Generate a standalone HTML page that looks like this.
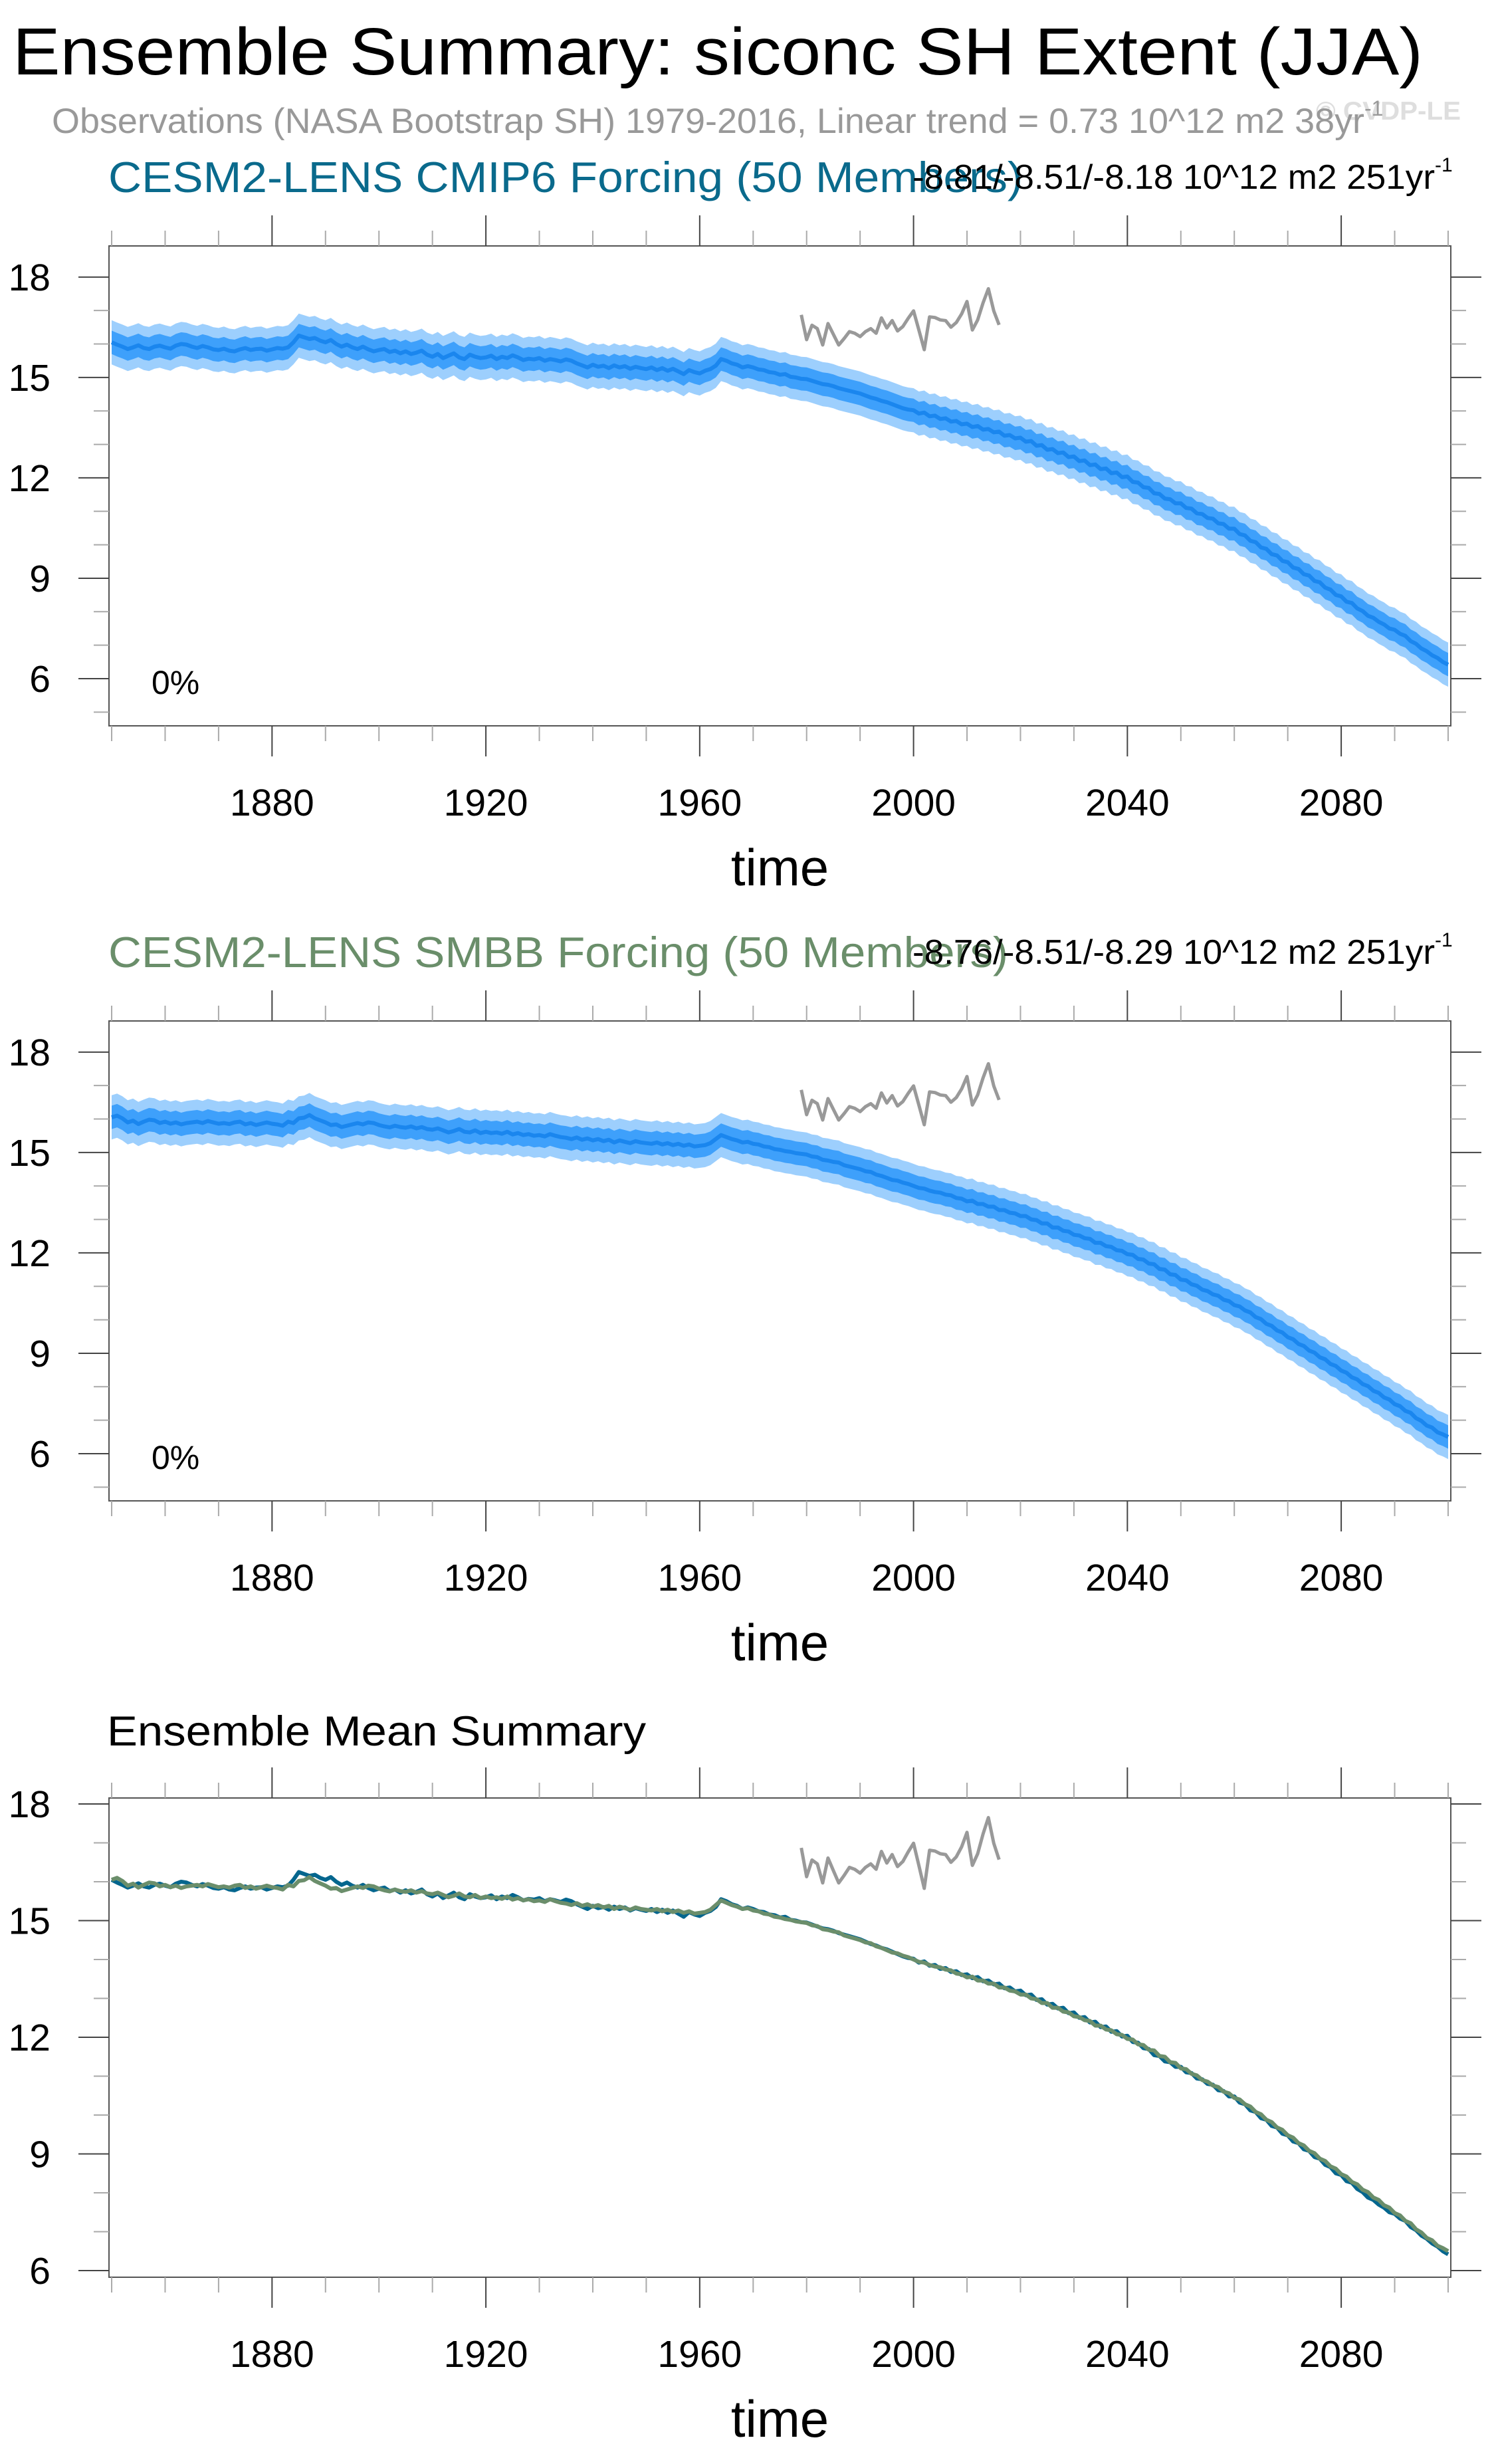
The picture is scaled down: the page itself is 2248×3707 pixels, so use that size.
<!DOCTYPE html>
<html><head><meta charset="utf-8"><title>Ensemble Summary: siconc SH Extent (JJA)</title>
<style>html,body{margin:0;padding:0;background:#fff;}svg{display:block;font-family:"Liberation Sans",Arial,sans-serif;}</style>
</head><body>
<svg id="chart" xmlns="http://www.w3.org/2000/svg" width="2248" height="3707" viewBox="0 0 2248 3707">
<rect x="0" y="0" width="2248" height="3707" fill="#fff"/>
<text x="19" y="112" font-size="100" textLength="2122" lengthAdjust="spacingAndGlyphs" fill="#000">Ensemble Summary: siconc SH Extent (JJA)</text>
<text x="1980" y="180" font-size="39" font-weight="bold" textLength="218" lengthAdjust="spacingAndGlyphs" fill="#dedede">© CVDP-LE</text>
<text x="78" y="200" font-size="53" fill="#999"><tspan textLength="1975" lengthAdjust="spacingAndGlyphs">Observations (NASA Bootstrap SH) 1979-2016, Linear trend = 0.73 10^12 m2 38yr</tspan><tspan font-size="32" dy="-26">-1</tspan></text>
<text x="163" y="289" font-size="65" textLength="1376" lengthAdjust="spacingAndGlyphs" fill="#0a6a8c">CESM2-LENS CMIP6 Forcing (50 Members)</text>
<text x="1373" y="284" font-size="52" fill="#000"><tspan textLength="786" lengthAdjust="spacingAndGlyphs">-8.81/-8.51/-8.18 10^12 m2 251yr</tspan><tspan font-size="30" dy="-26">-1</tspan></text>
<text x="163" y="1455" font-size="65" textLength="1354" lengthAdjust="spacingAndGlyphs" fill="#6a8e6a">CESM2-LENS SMBB Forcing (50 Members)</text>
<text x="1373" y="1450" font-size="52" fill="#000"><tspan textLength="786" lengthAdjust="spacingAndGlyphs">-8.76/-8.51/-8.29 10^12 m2 251yr</tspan><tspan font-size="30" dy="-26">-1</tspan></text>
<text x="161" y="2626" font-size="63" textLength="811" lengthAdjust="spacingAndGlyphs" fill="#000">Ensemble Mean Summary</text>
</svg>
<script>
const startYear = 1850;
const cmip6Mean = [
16.05,15.98,15.92,15.85,15.90,15.96,15.88,15.85,15.92,15.95,
15.90,15.86,15.95,16.00,15.98,15.92,15.88,15.94,15.90,15.84,
15.82,15.86,15.80,15.78,15.84,15.88,15.82,15.85,15.86,15.80,
15.84,15.88,15.86,15.90,16.05,16.25,16.20,16.15,16.18,16.10,
16.05,16.12,16.00,15.92,15.98,15.90,15.85,15.92,15.84,15.78,
15.82,15.85,15.76,15.80,15.72,15.78,15.70,15.74,15.80,15.68,
15.62,15.70,15.58,15.65,15.72,15.60,15.55,15.68,15.62,15.58,
15.60,15.65,15.55,15.62,15.58,15.66,15.60,15.52,15.56,15.54,
15.58,15.50,15.55,15.52,15.48,15.54,15.50,15.42,15.36,15.30,
15.38,15.32,15.35,15.28,15.36,15.30,15.34,15.26,15.32,15.28,
15.25,15.30,15.22,15.28,15.20,15.26,15.18,15.10,15.22,15.16,
15.12,15.20,15.25,15.35,15.55,15.50,15.42,15.38,15.30,15.34,
15.30,15.24,15.22,15.16,15.14,15.08,15.10,15.02,15.00,14.96,
14.95,14.90,14.85,14.80,14.78,14.74,14.68,14.64,14.60,14.56,
14.52,14.46,14.40,14.36,14.30,14.26,14.20,14.14,14.08,14.04,
14.02,13.92,13.95,13.84,13.86,13.76,13.78,13.68,13.70,13.60,
13.62,13.52,13.55,13.44,13.46,13.36,13.38,13.26,13.28,13.18,
13.20,13.08,13.10,12.96,12.98,12.84,12.86,12.74,12.76,12.62,
12.64,12.50,12.52,12.38,12.40,12.26,12.28,12.14,12.16,12.02,
12.04,11.88,11.86,11.72,11.70,11.54,11.52,11.38,11.36,11.24,
11.24,11.10,11.08,10.94,10.92,10.80,10.78,10.64,10.62,10.48,
10.48,10.32,10.28,10.12,10.08,9.92,9.88,9.72,9.68,9.52,
9.48,9.32,9.28,9.12,9.08,8.92,8.88,8.72,8.66,8.50,
8.46,8.30,8.26,8.10,8.02,7.88,7.82,7.70,7.62,7.50,
7.46,7.34,7.28,7.12,7.04,6.90,6.82,6.70,6.62,6.50,
6.42];
const smbbMean = [
16.05,16.10,16.02,15.90,15.95,15.85,15.92,15.98,15.96,15.88,
15.92,15.86,15.90,15.84,15.88,15.90,15.92,15.88,15.94,15.90,
15.86,15.88,15.85,15.90,15.92,15.84,15.88,15.82,15.86,15.90,
15.86,15.84,15.80,15.92,15.88,16.02,16.04,16.12,16.02,15.96,
15.90,15.82,15.84,15.76,15.80,15.84,15.88,15.84,15.90,15.88,
15.82,15.78,15.75,15.80,15.76,15.74,15.78,15.72,15.76,15.70,
15.68,15.72,15.66,15.60,15.64,15.70,15.62,15.60,15.66,15.58,
15.62,15.58,15.60,15.56,15.62,15.54,15.58,15.52,15.55,15.50,
15.52,15.48,15.55,15.50,15.46,15.44,15.40,15.45,15.38,15.42,
15.36,15.40,15.34,15.38,15.30,15.36,15.32,15.28,15.34,15.30,
15.28,15.26,15.30,15.24,15.28,15.22,15.26,15.20,15.24,15.18,
15.20,15.22,15.28,15.40,15.52,15.46,15.40,15.36,15.30,15.32,
15.26,15.24,15.18,15.16,15.10,15.08,15.04,15.02,14.98,14.96,
14.94,14.88,14.86,14.78,14.76,14.72,14.70,14.62,14.58,14.54,
14.50,14.44,14.42,14.34,14.30,14.24,14.18,14.16,14.10,14.06,
14.00,13.94,13.92,13.86,13.82,13.80,13.74,13.72,13.64,13.62,
13.54,13.56,13.46,13.46,13.38,13.38,13.28,13.28,13.20,13.18,
13.10,13.10,13.00,12.98,12.88,12.88,12.76,12.76,12.66,12.64,
12.54,12.52,12.44,12.42,12.30,12.30,12.20,12.18,12.08,12.06,
11.96,11.94,11.82,11.80,11.68,11.66,11.52,11.50,11.36,11.34,
11.20,11.18,11.06,11.02,10.90,10.86,10.76,10.72,10.60,10.56,
10.44,10.40,10.28,10.22,10.08,10.02,9.88,9.82,9.68,9.62,
9.48,9.42,9.28,9.22,9.08,9.02,8.88,8.82,8.68,8.62,
8.48,8.42,8.28,8.22,8.08,8.02,7.88,7.82,7.68,7.62,
7.48,7.42,7.28,7.22,7.06,6.98,6.84,6.78,6.64,6.58,
6.50];
const obsStartYear = 1979;
const obsValues = [16.87,16.13,16.56,16.46,15.97,16.61,16.29,15.97,16.16,16.37,
16.32,16.22,16.37,16.46,16.32,16.78,16.48,16.70,16.39,16.52,
16.77,16.99,16.42,15.83,16.81,16.79,16.72,16.70,16.50,16.64,
16.90,17.27,16.42,16.72,17.23,17.65,16.99,16.57];
const innerSpread = 0.35;
const outerSpread = 0.66;
const yTickLabels = [6, 9, 12, 15, 18];
const xTickLabels = [1880, 1920, 1960, 2000, 2040, 2080];

const NS = 'http://www.w3.org/2000/svg';
const svg = document.getElementById('chart');
const BOX_L = 164, BOX_R = 2183, XMIN = 1849.5, XMAX = 2100.5;
function xScale(yr) { return BOX_L + (yr - XMIN) * (BOX_R - BOX_L) / (XMAX - XMIN); }
function mk(tag, attrs, parent) {
  const e = document.createElementNS(NS, tag);
  for (const k in attrs) e.setAttribute(k, attrs[k]);
  (parent || svg).appendChild(e);
  return e;
}
function linePath(vals, y0, ys, off) {
  return vals.map((v, i) => (i ? 'L' : 'M') + xScale(y0 + i).toFixed(1) + ',' + ys(v + off).toFixed(1)).join('');
}
function bandPath(vals, ys, spread) {
  let d = linePath(vals, startYear, ys, spread);
  for (let i = vals.length - 1; i >= 0; i--) d += 'L' + xScale(startYear + i).toFixed(1) + ',' + ys(vals[i] - spread).toFixed(1);
  return d + 'Z';
}
function panel(p) {
  const g = mk('g', {});
  
  
  const ys = v => p.bottom - (v - p.ymin) * (p.bottom - p.top) / (p.ymax - p.ymin);
  if (p.band) {
    const ob = mk('path', { d: bandPath(p.band, ys, outerSpread), fill: '#9dcffd' }, g);
    
    
    const ib = mk('path', { d: bandPath(p.band, ys, innerSpread), fill: '#3ea0fb' }, g);
    
    
    const ml = mk('path', { d: linePath(p.band, startYear, ys, 0), fill: 'none', stroke: '#1a86ee', 'stroke-width': 6, 'stroke-linejoin': 'round' }, g);
    
    
  }
  (p.lines || []).forEach(l => {
    const el = mk('path', { d: linePath(l.vals, startYear, ys, 0), fill: 'none', stroke: l.color, 'stroke-width': 6, 'stroke-linejoin': 'round' }, g);
    
    
  });
  const obs = mk('path', { d: linePath(obsValues, obsStartYear, ys, 0), fill: 'none', stroke: '#999', 'stroke-width': 5, 'stroke-linejoin': 'round' }, g);
  
  
  const box = mk('rect', { x: BOX_L, y: p.top, width: BOX_R - BOX_L, height: p.bottom - p.top, fill: 'none', stroke: '#555', 'stroke-width': 2 }, g);
  
  
  for (let yr = 1850; yr <= 2100; yr += 10) {
    const major = xTickLabels.indexOf(yr) >= 0;
    const len = major ? 46 : 23, x = xScale(yr), col = major ? '#444' : '#aaa';
    mk('line', { x1: x, x2: x, y1: p.top, y2: p.top - len, stroke: col, 'stroke-width': 2 }, g);
    mk('line', { x1: x, x2: x, y1: p.bottom, y2: p.bottom + len, stroke: col, 'stroke-width': 2 }, g);
  }
  xTickLabels.forEach(yr => {
    const t = mk('text', { x: xScale(yr), y: p.bottom + 135, 'font-size': 57, 'text-anchor': 'middle', fill: '#000' }, g);
    
    
    t.textContent = yr;
  });
  for (let v = Math.ceil(p.ymin); v <= Math.floor(p.ymax); v++) {
    const major = yTickLabels.indexOf(v) >= 0;
    const len = major ? 46 : 23, y = ys(v), col = major ? '#444' : '#aaa';
    mk('line', { x1: BOX_L, x2: BOX_L - len, y1: y, y2: y, stroke: col, 'stroke-width': 2 }, g);
    mk('line', { x1: BOX_R, x2: BOX_R + len, y1: y, y2: y, stroke: col, 'stroke-width': 2 }, g);
  }
  yTickLabels.forEach(v => {
    const t = mk('text', { x: 76, y: ys(v) + 20, 'font-size': 57, 'text-anchor': 'end', fill: '#000' }, g);
    
    
    t.textContent = v;
  });
  const xt = mk('text', { x: (BOX_L + BOX_R) / 2, y: p.bottom + 240, 'font-size': 78, 'text-anchor': 'middle', fill: '#000' }, g);
  
  
  xt.textContent = 'time';
  if (p.pct) {
    const pt = mk('text', { x: 228, y: p.bottom - 48, 'font-size': 50, fill: '#000' }, g);
    
    
    pt.textContent = '0%';
  }
}
panel({ name: 'cmip6-panel', top: 370, bottom: 1092, ymin: 4.59, ymax: 18.93, band: cmip6Mean, pct: true });
panel({ name: 'smbb-panel', top: 1536, bottom: 2258, ymin: 4.59, ymax: 18.93, band: smbbMean, pct: true });
panel({ name: 'ensemble-mean-panel', top: 2705, bottom: 3426, ymin: 5.83, ymax: 18.154,
  lines: [{ vals: cmip6Mean, color: '#04668e', name: 'cmip6-mean-line' }, { vals: smbbMean, color: '#6b8e6b', name: 'smbb-mean-line' }] });
</script>
</body></html>
